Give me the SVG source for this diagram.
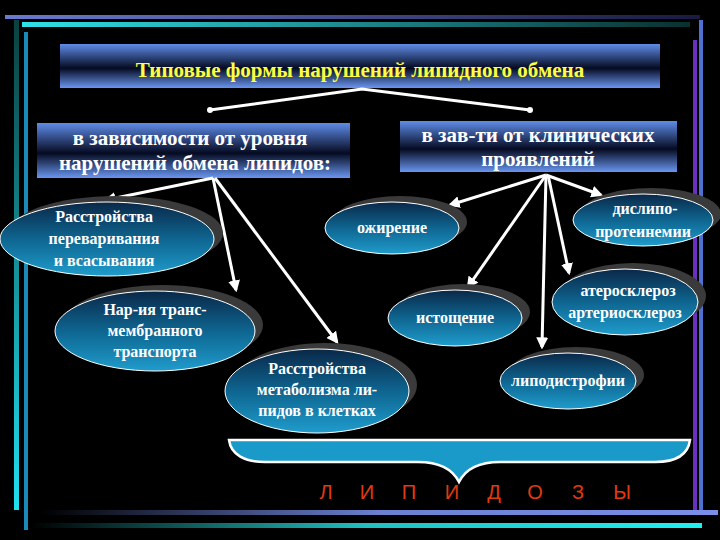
<svg xmlns="http://www.w3.org/2000/svg" width="720" height="540" viewBox="0 0 720 540">
<defs>
<linearGradient id="box" x1="0" y1="0" x2="0" y2="1"><stop offset="0" stop-color="#5f8ce8"/><stop offset="0.55" stop-color="#050a20"/><stop offset="1" stop-color="#6a96f0"/></linearGradient>
<linearGradient id="ell" x1="0" y1="0" x2="0" y2="1"><stop offset="0" stop-color="#0a2848"/><stop offset="0.5" stop-color="#0e6590"/><stop offset="1" stop-color="#1f9ccc"/></linearGradient>
<linearGradient id="bt1" x1="0" x2="1"><stop offset="0" stop-color="#6a7ad0"/><stop offset="1" stop-color="#1a1a40"/></linearGradient>
<linearGradient id="bt2" x1="0" x2="1"><stop offset="0" stop-color="#30e0e8"/><stop offset="1" stop-color="#0a3030"/></linearGradient>
<linearGradient id="bb1" x1="0" x2="1"><stop offset="0" stop-color="#000"/><stop offset="0.5" stop-color="#6a80d0"/><stop offset="1" stop-color="#7a90e8"/></linearGradient>
<linearGradient id="bb2" x1="0" x2="1"><stop offset="0" stop-color="#000"/><stop offset="0.5" stop-color="#20c0c0"/><stop offset="1" stop-color="#20f0f0"/></linearGradient>
<linearGradient id="vl" x1="0" y1="0" x2="0" y2="1"><stop offset="0" stop-color="#0a4040"/><stop offset="1" stop-color="#20e0f0"/></linearGradient>
<marker id="ah" viewBox="0 0 10 10" refX="8" refY="5" markerWidth="4" markerHeight="4" orient="auto"><path d="M0,0 L10,5 L0,10 z" fill="#fff"/></marker>
<style>
text{font-family:"Liberation Serif","DejaVu Serif",serif}
.bt{font-weight:bold;fill:#fff;text-anchor:middle;font-size:21px}
.et{font-weight:bold;fill:#fff;font-size:16px;text-anchor:middle}
.sh{fill:#3a3a3a}
.el{fill:url(#ell);stroke:#fff;stroke-width:1}
.ar{stroke:#fff;stroke-width:3;fill:none;marker-end:url(#ah)}
.lp{font-family:"Liberation Sans",sans-serif;fill:#e03a10;font-size:20px;text-anchor:middle}
</style>
</defs>
<rect width="720" height="540" fill="#000"/>
<g id="frame">
<rect x="5" y="15" width="695" height="4" fill="url(#bt1)"/>
<rect x="22" y="22" width="668" height="5" fill="url(#bt2)"/>
<rect x="14" y="20" width="5" height="490" fill="url(#vl)"/>
<rect x="24" y="32" width="4" height="498" fill="#1a8ab8"/>
<rect x="699" y="20" width="4" height="490" fill="#5070d0"/>
<rect x="693" y="40" width="4" height="470" fill="#6a30c0"/>
<rect x="40" y="510" width="678" height="5" fill="url(#bb1)"/>
<rect x="30" y="523" width="672" height="5" fill="url(#bb2)"/>
</g>
<g id="title"><rect x="60" y="44" width="600" height="44" fill="url(#box)"/><text class="bt" x="360" y="77" style="fill:#ffff40">Типовые формы нарушений липидного обмена</text></g>
<g id="left-box"><rect x="37" y="123" width="313" height="55" fill="url(#box)"/><text class="bt" x="190" y="145">в зависимости от уровня</text><text class="bt" x="195" y="170">нарушений обмена липидов:</text></g>
<g id="right-box"><rect x="400" y="121" width="277" height="51" fill="url(#box)"/><text class="bt" x="538" y="142">в зав-ти от клинических</text><text class="bt" x="538" y="166">проявлений</text></g>
<g id="connectors">
<polyline points="210,110 362,89 530,110" stroke="#fff" stroke-width="3" fill="none"/>
<circle cx="210" cy="110" r="3" fill="#fff"/><circle cx="530" cy="110" r="3" fill="#fff"/>
<line class="ar" x1="213" y1="178" x2="106" y2="200"/>
<line class="ar" x1="213" y1="178" x2="236" y2="290"/>
<line class="ar" x1="215" y1="178" x2="337" y2="342"/>
<line class="ar" x1="546" y1="175" x2="450" y2="205"/>
<line class="ar" x1="546" y1="175" x2="601" y2="195"/>
<line class="ar" x1="546" y1="175" x2="468" y2="287"/>
<line class="ar" x1="548" y1="175" x2="569" y2="273"/>
<line class="ar" x1="546" y1="175" x2="542" y2="347"/>
</g>
<g id="n1"><ellipse class="sh" cx="116" cy="233" rx="107" ry="37"/><ellipse class="el" cx="107" cy="239" rx="107" ry="37"/><text class="et" x="104" y="222">Расстройства</text><text class="et" x="104" y="244">переваривания</text><text class="et" x="104" y="266">и всасывания</text></g>
<g id="n2"><ellipse class="sh" cx="163" cy="325" rx="100" ry="40"/><ellipse class="el" cx="155" cy="331" rx="100" ry="40"/><text class="et" x="155" y="315">Нар-ия транс-</text><text class="et" x="155" y="336">мембранного</text><text class="et" x="155" y="357">транспорта</text></g>
<g id="n3"><ellipse class="sh" cx="325" cy="385" rx="92" ry="42"/><ellipse class="el" cx="317" cy="391" rx="92" ry="42"/><text class="et" x="317" y="374">Расстройства</text><text class="et" x="317" y="395">метаболизма ли-</text><text class="et" x="317" y="416">пидов в клетках</text></g>
<g id="n4"><ellipse class="sh" cx="400" cy="222" rx="67" ry="26"/><ellipse class="el" cx="392" cy="228" rx="67" ry="26"/><text class="et" x="392" y="233">ожирение</text></g>
<g id="n5"><ellipse class="sh" cx="651" cy="214" rx="70" ry="26"/><ellipse class="el" cx="643" cy="220" rx="70" ry="26"/><text class="et" x="645" y="214">дислипо-</text><text class="et" x="643" y="237">протеинемии</text></g>
<g id="n6"><ellipse class="sh" cx="463" cy="312" rx="67" ry="28"/><ellipse class="el" cx="455" cy="318" rx="67" ry="28"/><text class="et" x="455" y="323">истощение</text></g>
<g id="n7"><ellipse class="sh" cx="633" cy="296" rx="73" ry="33"/><ellipse class="el" cx="625" cy="302" rx="73" ry="33"/><text class="et" x="628" y="296">атеросклероз</text><text class="et" x="625" y="318">артериосклероз</text></g>
<g id="n8"><ellipse class="sh" cx="576" cy="375" rx="68" ry="28"/><ellipse class="el" cx="568" cy="381" rx="68" ry="28"/><text class="et" x="568" y="386">липодистрофии</text></g>
<g id="brace"><path d="M229,440 L690,440 C688,455 675,462 655,462 L500,462 C478,462 465,470 459,482 C453,470 440,462 418,462 L265,462 C245,462 231,455 229,440 Z" fill="#1a9ac8" stroke="#fff" stroke-width="2.5"/></g>
<g id="lipidozy"><text class="lp" x="326" y="499">Л</text><text class="lp" x="367" y="499">И</text><text class="lp" x="409" y="499">П</text><text class="lp" x="452" y="499">И</text><text class="lp" x="494" y="499">Д</text><text class="lp" x="535" y="499">О</text><text class="lp" x="578" y="499">З</text><text class="lp" x="622" y="499">Ы</text></g>
</svg>
